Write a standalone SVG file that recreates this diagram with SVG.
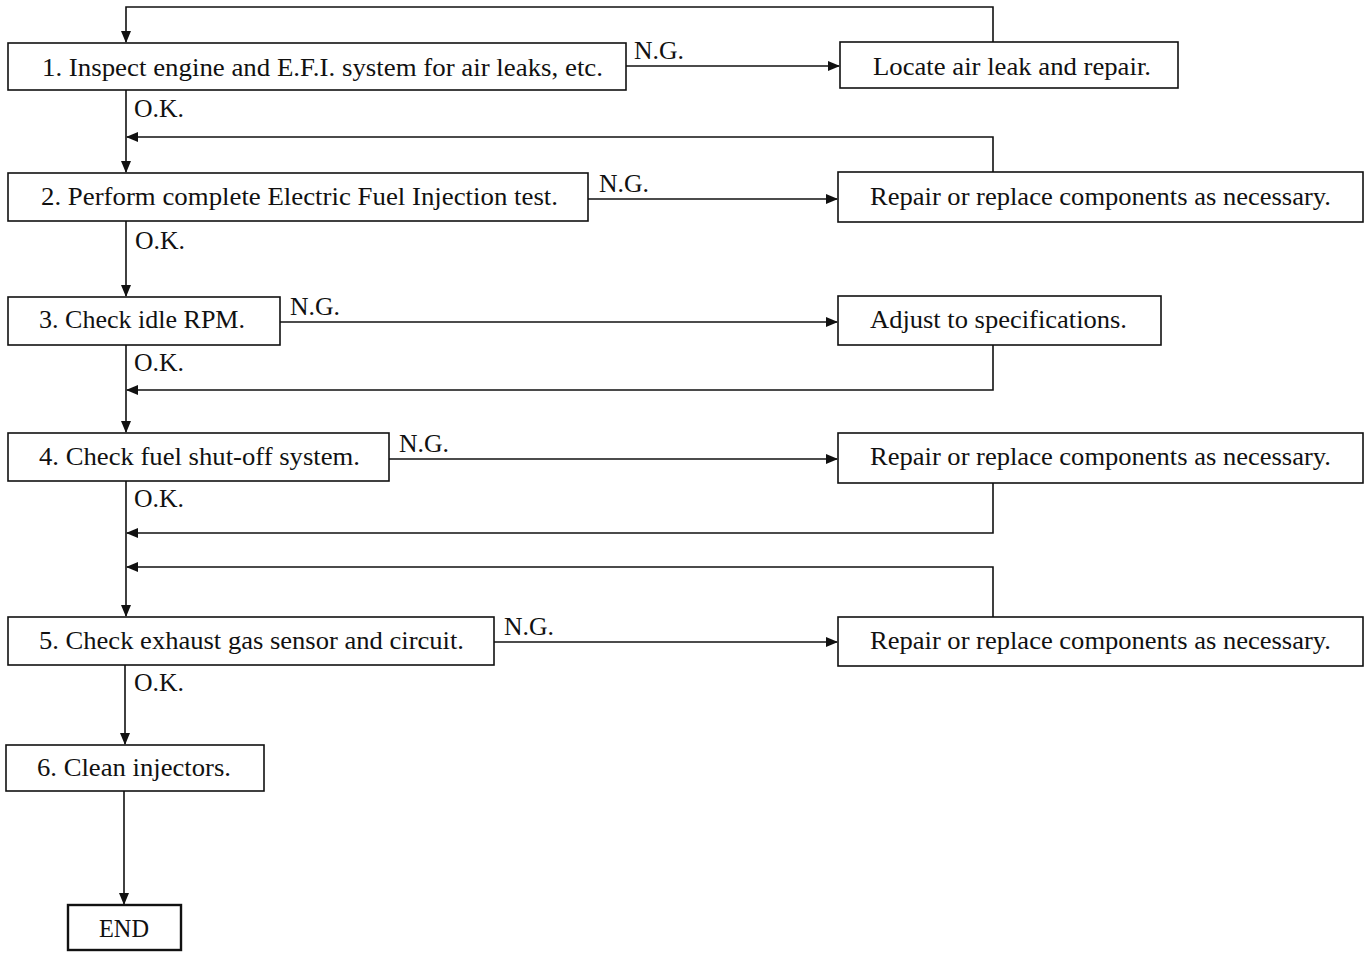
<svg xmlns="http://www.w3.org/2000/svg" width="1369" height="955" viewBox="0 0 1369 955">
<style>
.box{fill:#fff;stroke:#111;stroke-width:1.6}
.end{fill:#fff;stroke:#111;stroke-width:2.4}
.t{font-family:"Liberation Serif","Times New Roman",serif;font-size:25px;fill:#111}
.c{fill:none;stroke:#111;stroke-width:1.6}
</style>
<defs>
<marker id="ah" markerUnits="userSpaceOnUse" markerWidth="12" markerHeight="10" refX="11" refY="5" orient="auto">
<path d="M0,0 L12,5 L0,10 z" fill="#111"/>
</marker>
</defs>
<rect width="1369" height="955" fill="#fff"/>
<g id="connectors">
<path class="c" d="M993,42 V7 H126 V42" marker-end="url(#ah)"/>
<path class="c" d="M626,66 H839" marker-end="url(#ah)"/>
<path class="c" d="M126,90 V172" marker-end="url(#ah)"/>
<path class="c" d="M993,172 V137 H127" marker-end="url(#ah)"/>
<path class="c" d="M588,199 H837" marker-end="url(#ah)"/>
<path class="c" d="M126,221 V296" marker-end="url(#ah)"/>
<path class="c" d="M280,322 H837" marker-end="url(#ah)"/>
<path class="c" d="M126,345 V432" marker-end="url(#ah)"/>
<path class="c" d="M993,345 V390 H127" marker-end="url(#ah)"/>
<path class="c" d="M389,459 H837" marker-end="url(#ah)"/>
<path class="c" d="M126,481 V616" marker-end="url(#ah)"/>
<path class="c" d="M993,483 V533 H127" marker-end="url(#ah)"/>
<path class="c" d="M993,617 V567 H127" marker-end="url(#ah)"/>
<path class="c" d="M494,642 H837" marker-end="url(#ah)"/>
<path class="c" d="M125,665 V744" marker-end="url(#ah)"/>
<path class="c" d="M124,791 V904" marker-end="url(#ah)"/>
<text class="t" x="634" y="59" textLength="50" lengthAdjust="spacingAndGlyphs">N.G.</text>
<text class="t" x="599" y="192" textLength="50" lengthAdjust="spacingAndGlyphs">N.G.</text>
<text class="t" x="290" y="315" textLength="50" lengthAdjust="spacingAndGlyphs">N.G.</text>
<text class="t" x="399" y="452" textLength="50" lengthAdjust="spacingAndGlyphs">N.G.</text>
<text class="t" x="504" y="635" textLength="50" lengthAdjust="spacingAndGlyphs">N.G.</text>
<text class="t" x="134" y="117" textLength="50" lengthAdjust="spacingAndGlyphs">O.K.</text>
<text class="t" x="135" y="249" textLength="50" lengthAdjust="spacingAndGlyphs">O.K.</text>
<text class="t" x="134" y="371" textLength="50" lengthAdjust="spacingAndGlyphs">O.K.</text>
<text class="t" x="134" y="507" textLength="50" lengthAdjust="spacingAndGlyphs">O.K.</text>
<text class="t" x="134" y="691" textLength="50" lengthAdjust="spacingAndGlyphs">O.K.</text>
</g>
<g id="n1"><rect class="box" x="8" y="43" width="618" height="47"/><text class="t" x="42" y="76" textLength="561" lengthAdjust="spacingAndGlyphs">1. Inspect engine and E.F.I. system for air leaks, etc.</text></g>
<g id="r1"><rect class="box" x="840" y="42" width="338" height="46"/><text class="t" x="873" y="75" textLength="278" lengthAdjust="spacingAndGlyphs">Locate air leak and repair.</text></g>
<g id="n2"><rect class="box" x="8" y="173" width="580" height="48"/><text class="t" x="41" y="205" textLength="517" lengthAdjust="spacingAndGlyphs">2. Perform complete Electric Fuel Injection test.</text></g>
<g id="r2"><rect class="box" x="838" y="172" width="525" height="50"/><text class="t" x="870" y="205" textLength="461" lengthAdjust="spacingAndGlyphs">Repair or replace components as necessary.</text></g>
<g id="n3"><rect class="box" x="8" y="297" width="272" height="48"/><text class="t" x="39" y="328" textLength="206" lengthAdjust="spacingAndGlyphs">3. Check idle RPM.</text></g>
<g id="r3"><rect class="box" x="838" y="296" width="323" height="49"/><text class="t" x="870" y="328" textLength="257" lengthAdjust="spacingAndGlyphs">Adjust to specifications.</text></g>
<g id="n4"><rect class="box" x="8" y="433" width="381" height="48"/><text class="t" x="39" y="465" textLength="321" lengthAdjust="spacingAndGlyphs">4. Check fuel shut-off system.</text></g>
<g id="r4"><rect class="box" x="838" y="433" width="525" height="50"/><text class="t" x="870" y="465" textLength="461" lengthAdjust="spacingAndGlyphs">Repair or replace components as necessary.</text></g>
<g id="n5"><rect class="box" x="8" y="617" width="486" height="48"/><text class="t" x="39" y="649" textLength="425" lengthAdjust="spacingAndGlyphs">5. Check exhaust gas sensor and circuit.</text></g>
<g id="r5"><rect class="box" x="838" y="617" width="525" height="49"/><text class="t" x="870" y="649" textLength="461" lengthAdjust="spacingAndGlyphs">Repair or replace components as necessary.</text></g>
<g id="n6"><rect class="box" x="6" y="745" width="258" height="46"/><text class="t" x="37" y="776" textLength="194" lengthAdjust="spacingAndGlyphs">6. Clean injectors.</text></g>
<g id="end"><rect class="end" x="68" y="905" width="113" height="45"/><text class="t" x="99" y="937" textLength="50" lengthAdjust="spacingAndGlyphs">END</text></g>
</svg>
